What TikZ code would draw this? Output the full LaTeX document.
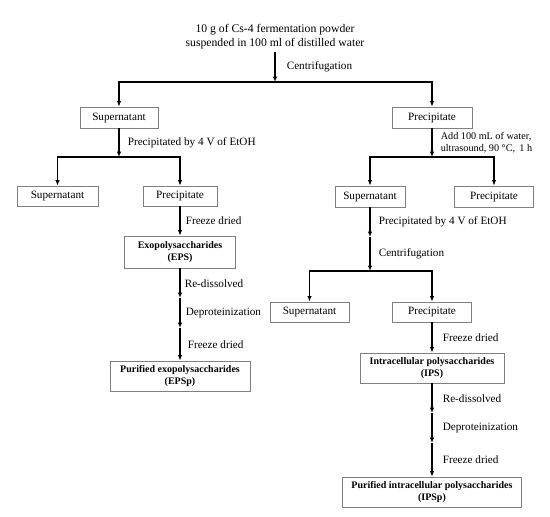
\documentclass[tikz,border=0pt]{standalone}
\usepackage{fontspec}
\setmainfont{Liberation Serif}
\usetikzlibrary{arrows.meta}

\begin{document}
\begin{tikzpicture}
		[x=1pt, y=-1pt, >={Latex[length=5.5pt,width=4.5pt]},
		every node/.append style = {font=\fontsize{11.2}{13.5}\selectfont},
		main/.style = {draw=gray, line width=0.7pt, align=center, inner sep=1pt},
		res/.style = {main, font=\bfseries\fontsize{10}{12.5}\selectfont},
		lbl/.style = {right, align=left, inner sep=0pt, xshift=8pt},
		flow/.style = {->, line width=1.6pt}]
        \useasboundingbox (0,0) rectangle (550,517);

        % top: sample
        \node[align=center, inner sep=2pt, font=\fontsize{11.7}{14}\selectfont] (src) at (275,37) {10 g of Cs-4 fermentation powder\\suspended in 100 ml of distilled water};
        \coordinate (j1) at (275,82);

        % first split
        \node[main, minimum width=78pt, minimum height=21pt] (sup1) at (119,117.5) {Supernatant};
        \node[main, minimum width=80pt, minimum height=21pt] (pre1) at (432,117.5) {Precipitate};

        % left branch
        \coordinate (j2) at (119,157);
        \node[main, minimum width=81pt, minimum height=20pt] (sup2) at (57.5,196) {Supernatant};
        \node[main, minimum width=74pt, minimum height=20pt] (pre2) at (180,196) {Precipitate};
        \node[res, minimum width=111pt, minimum height=32pt] (eps) at (180,252) {Exopolysaccharides\\(EPS)};
        \coordinate (c1) at (180,298);
        \coordinate (c2) at (180,328);
        \node[res, minimum width=140pt, minimum height=30pt] (epsp) at (180,376) {Purified exopolysaccharides\\(EPSp)};

        % right branch
        \coordinate (j3) at (432,157);
        \node[main, minimum width=70pt, minimum height=21pt] (sup3) at (370,196.5) {Supernatant};
        \node[main, minimum width=79pt, minimum height=21pt] (pre3) at (494,196.5) {Precipitate};
        \coordinate (c3) at (370,237);
        \coordinate (j4) at (370,271);
        \node[main, minimum width=79pt, minimum height=20pt] (sup4) at (309.5,312) {Supernatant};
        \node[main, minimum width=79pt, minimum height=20pt] (pre4) at (432,312) {Precipitate};
        \node[res, minimum width=144pt, minimum height=30pt] (ips) at (432,368) {Intracellular polysaccharides\\(IPS)};
        \coordinate (c4) at (432,413);
        \coordinate (c5) at (432,443);
        \node[res, minimum width=179pt, minimum height=30pt] (ipsp) at (432,492) {Purified intracellular polysaccharides\\(IPSp)};

        \draw[flow] (src) -- node[lbl, xshift=3pt] {Centrifugation} (j1);
        \draw[flow] (j1) -| (sup1);
        \draw[flow] (j1) -| (pre1);

        \draw[flow] (sup1) -- node[lbl] {Precipitated by 4 V of EtOH} (j2);
        \draw[flow] (j2) -| (sup2);
        \draw[flow] (j2) -| (pre2);
        \draw[flow] (pre2) -- node[lbl, xshift=-3pt] {Freeze dried} (eps);
        \draw[flow] (eps) -- node[lbl, xshift=-4pt] {Re-dissolved} (c1);
        \draw[flow] (c1) -- node[lbl, xshift=-3pt] {Deproteinization} (c2);
        \draw[flow] (c2) -- node[lbl, xshift=-1pt] {Freeze dried} (epsp);

        \draw[flow] (pre1) -- node[lbl, font=\fontsize{10.2}{11.5}\selectfont] {Add 100 mL of water,\\ultrasound, 90 °C,\,\ 1 h} (j3);
        \draw[flow] (j3) -| (sup3);
        \draw[flow] (j3) -| (pre3);
        \draw[flow] (sup3) -- node[lbl] {Precipitated by 4 V of EtOH} (c3);
        \draw[flow] (c3) -- node[lbl] {Centrifugation} (j4);
        \draw[flow] (j4) -| (sup4);
        \draw[flow] (j4) -| (pre4);
        \draw[flow] (pre4) -- node[lbl, xshift=2pt] {Freeze dried} (ips);
        \draw[flow] (ips) -- node[lbl, xshift=2pt] {Re-dissolved} (c4);
        \draw[flow] (c4) -- node[lbl, xshift=2pt] {Deproteinization} (c5);
        \draw[flow] (c5) -- node[lbl, xshift=2pt] {Freeze dried} (ipsp);
	\end{tikzpicture}
\end{document}
